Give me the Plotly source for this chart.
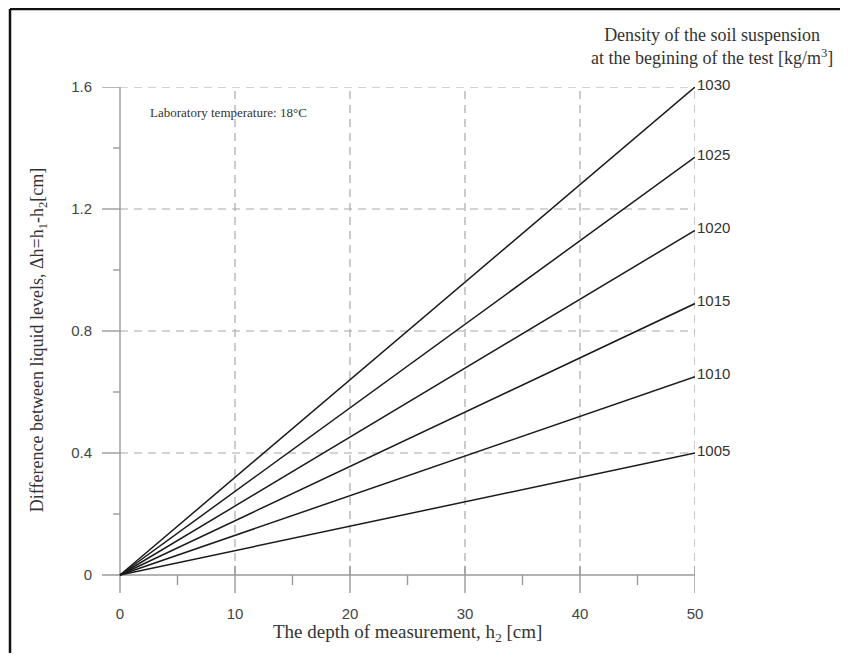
import plotly.graph_objects as go

# ---- data ----
densities = ["1005", "1010", "1015", "1020", "1025", "1030"]
depth = [0, 50]                                   # h2 [cm]
dh_at_50 = [0.40, 0.65, 0.89, 1.13, 1.37, 1.60]   # Δh at h2 = 50 cm
x_ticks = [0, 10, 20, 30, 40, 50]
y_ticks = [0, 0.4, 0.8, 1.2, 1.6]
y_tick_labels = ["0", "0.4", "0.8", "1.2", "1.6"]

# ---- layout (target page pixels; page body has 8px margin) ----
OFF = 8
W, H = 848 - 2 * OFF, 661 - 2 * OFF
PX0, PX1 = 102, 695   # plot area left/right in page px
PY0, PY1 = 87, 593    # plot area top/bottom in page px
L = PX0 - OFF
T = PY0 - OFF
R = W - (PX1 - OFF)
B = H - (PY1 - OFF)
pw, ph = PX1 - PX0, PY1 - PY0
XMIN, XMAX = -1.565, 50
YMIN, YMAX = -0.059, 1.6


def paper_x(px):
    return (px - PX0) / pw


def paper_y(py):
    return (PY1 - py) / ph


AX = "#9a9a9a"
GRID = "#a8a8a8"
SERIF = "Times New Roman, Liberation Serif, serif"
SANS = "Arial, Liberation Sans, sans-serif"

fig = go.Figure()

for d, v in zip(densities, dh_at_50):
    fig.add_trace(go.Scatter(
        x=depth, y=[0, v], mode="lines",
        line=dict(color="#1a1a1a", width=1.5),
        name=d, showlegend=False, cliponaxis=False, hoverinfo="skip"))
    fig.add_annotation(x=depth[-1], y=v, text=d, xref="x", yref="y",
                       xanchor="left", yanchor="middle", showarrow=False,
                       xshift=0, yshift=3,
                       font=dict(family=SANS, size=15, color="#333"))

shapes = []
# dashed grid
for xv in x_ticks[1:]:
    shapes.append(dict(type="line", xref="x", yref="y", x0=xv, x1=xv, y0=0, y1=YMAX,
                       line=dict(color=GRID, width=1.2, dash="8px,6px"), layer="below"))
for yv in y_ticks[1:]:
    shapes.append(dict(type="line", xref="x", yref="y", x0=0, x1=50, y0=yv, y1=yv,
                       line=dict(color=GRID, width=1.2, dash="8px,6px"), layer="below"))
# axes
shapes.append(dict(type="line", xref="x", yref="y", x0=XMIN, x1=50, y0=0, y1=0,
                   line=dict(color=AX, width=1.4), layer="below"))
shapes.append(dict(type="line", xref="x", yref="y", x0=0, x1=0, y0=YMIN, y1=YMAX,
                   line=dict(color=AX, width=1.4), layer="below"))
# x ticks
for xv in x_ticks[1:]:
    shapes.append(dict(type="line", xref="x", yref="y", x0=xv, x1=xv, y0=YMIN, y1=0.03,
                       line=dict(color=AX, width=1.4), layer="below"))
for xv in [5, 15, 25, 35, 45]:
    shapes.append(dict(type="line", xref="x", yref="y", x0=xv, x1=xv, y0=-0.033, y1=0,
                       line=dict(color=AX, width=1.4), layer="below"))
# y ticks
for yv in y_ticks[1:]:
    shapes.append(dict(type="line", xref="x", yref="y", x0=XMIN, x1=0, y0=yv, y1=yv,
                       line=dict(color=AX, width=1.4), layer="below"))
for yv in [0.2, 0.6, 1.0, 1.4]:
    shapes.append(dict(type="line", xref="x", yref="y", x0=-0.6, x1=0, y0=yv, y1=yv,
                       line=dict(color=AX, width=1.4), layer="below"))

# frame (left and top)
fx = paper_x(10)
fy = paper_y(9)
shapes.append(dict(type="line", xref="paper", yref="paper", x0=fx, x1=fx, y0=-0.3, y1=fy,
                   line=dict(color="#111", width=2.5)))
shapes.append(dict(type="line", xref="paper", yref="paper", x0=fx, x1=1.5, y0=fy, y1=fy,
                   line=dict(color="#111", width=2.5)))

fig.update_layout(shapes=shapes)

# titles
fig.add_annotation(x=25, xref="x", y=paper_y(633), yref="paper",
                   text="The depth of measurement, h<sub>2</sub> [cm]",
                   showarrow=False, xanchor="center", yanchor="middle",
                   font=dict(family=SERIF, size=19, color="#333"))
fig.add_annotation(x=paper_x(38), xref="paper", y=0.77, yref="y",
                   text="Difference between liquid levels, Δh=h<sub>1</sub>-h<sub>2</sub>[cm]",
                   textangle=-90, showarrow=False, xanchor="center", yanchor="middle",
                   font=dict(family=SERIF, size=18, color="#333"))
fig.add_annotation(x=paper_x(712), xref="paper", y=paper_y(46), yref="paper",
                   text="Density of the soil suspension<br>at the begining of the test [kg/m<sup>3</sup>]",
                   showarrow=False, xanchor="center", yanchor="middle", align="center",
                   font=dict(family=SERIF, size=18, color="#333"))
fig.add_annotation(x=2.4, xref="x", y=1.515, yref="y",
                   text="Laboratory temperature: 18°C", showarrow=False,
                   xanchor="left", yanchor="middle",
                   font=dict(family=SERIF, size=13, color="#333"))

fig.update_layout(
    width=W, height=H,
    margin=dict(l=L, r=R, t=T, b=B, pad=0),
    paper_bgcolor="white", plot_bgcolor="white",
    xaxis=dict(range=[XMIN, XMAX], showgrid=False, zeroline=False, showline=False,
               tickvals=x_ticks, ticktext=[str(v) for v in x_ticks],
               ticks="", ticklabelstandoff=10,
               tickfont=dict(family=SANS, size=15, color="#444")),
    yaxis=dict(range=[YMIN, YMAX], showgrid=False, zeroline=False, showline=False,
               tickvals=y_ticks, ticktext=y_tick_labels,
               ticks="", ticklabelstandoff=9,
               tickfont=dict(family=SANS, size=15, color="#444")),
)

fig.write_html("out.html")
